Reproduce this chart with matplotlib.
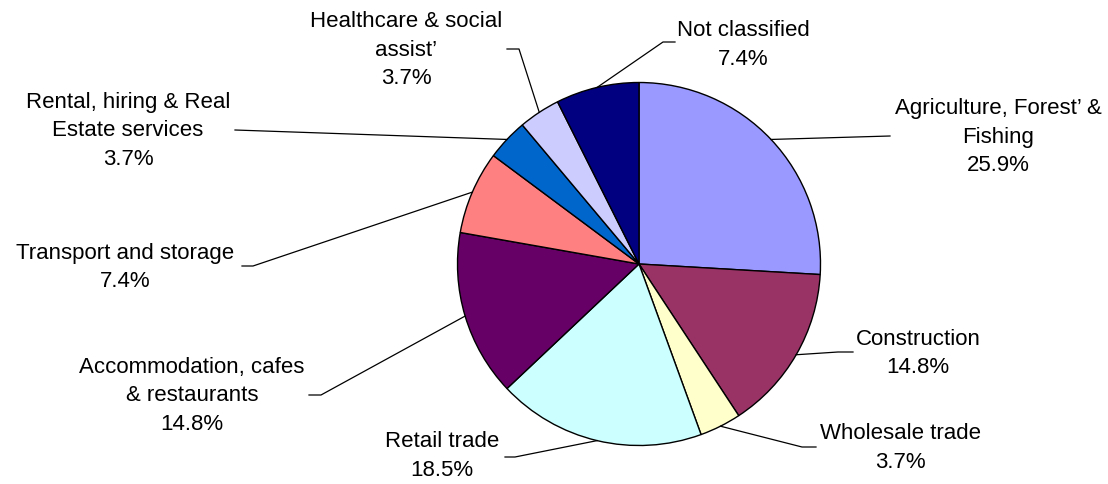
import numpy as np
import matplotlib.pyplot as plt

plt.rcParams['font.family'] = ['Liberation Sans', 'DejaVu Sans']

# industry shares (%), clockwise from 12 o'clock
industries = ['Agriculture, Forest\u2019 &\nFishing', 'Construction', 'Wholesale trade',
              'Retail trade', 'Accommodation, cafes\n& restaurants', 'Transport and storage',
              'Rental, hiring & Real\nEstate services', 'Healthcare & social\nassist\u2019',
              'Not classified']
shares = [25.9, 14.8, 3.7, 18.5, 14.8, 7.4, 3.7, 3.7, 7.4]
colours = ['#9999FF', '#993366', '#FFFFCC', '#CCFFFF', '#660066',
           '#FF8080', '#0066CC', '#CCCCFF', '#000080']

W, H = 1108, 485
cx, cy, r = 639, 265, 181.5

# label centre (px) and leader path after the rim point (px, top-left origin)
label_xy = [(998, 137), (918, 353.5), (900, 448), (442, 456), (192, 396),
            (125, 267.5), (128, 131), (406, 50), (743, 45)]
leaders = [[(890, 137)],
           [(838, 353), (853, 353)],
           [(802, 448), (816, 448)],
           [(515, 458), (505, 458)],
           [(321, 396), (309, 396)],
           [(253, 267), (242, 267)],
           [(235, 131)],
           [(519, 50), (507, 50)],
           [(663, 43), (675, 43)]]

fig = plt.figure(figsize=(W / 100, H / 100), dpi=100)
ax = fig.add_axes([0, 0, 1, 1])

ax.pie(shares, colors=colours, startangle=90, counterclock=False,
       center=(cx, H - cy), radius=r,
       wedgeprops=dict(edgecolor='black', linewidth=1.0))

total = sum(shares)
cum = np.cumsum([0] + shares)
for i, name in enumerate(industries):
    mid = np.deg2rad(90 - 360 * (cum[i] + shares[i] / 2) / total)
    x0 = cx + r * np.cos(mid)
    y0 = H - cy + r * np.sin(mid)
    xs = [x0] + [p[0] for p in leaders[i]]
    ys = [y0] + [H - p[1] for p in leaders[i]]
    ax.plot(xs, ys, color='black', lw=0.9)
    lx, ly = label_xy[i]
    ax.text(lx, H - ly, '%s\n%.1f%%' % (name, shares[i]), ha='center', va='center',
            fontsize=16, linespacing=1.45, color='black')

ax.set_xlim(0, W)
ax.set_ylim(0, H)
ax.set_aspect('equal')
ax.axis('off')

fig.savefig('out.png', dpi=100, facecolor='white')
